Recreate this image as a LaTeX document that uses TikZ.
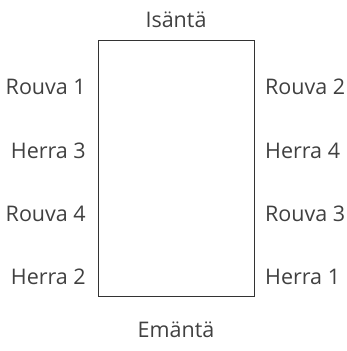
\documentclass[tikz,border=0pt]{standalone}
\usepackage{fontspec}
\setmainfont{Open Sans}
\begin{document}
\begin{tikzpicture}[x=1pt,y=-1pt,
  lbl/.style={font=\fontsize{21.5}{25}\selectfont,text=black!75,inner sep=0pt},
  table/.style={draw=black!80,line width=0.9pt}]
\useasboundingbox (0,0) rectangle (347,351);
\draw[table] (98,40) rectangle (254,296);
\node[lbl] (host) at (176,20) {Isäntä};
\node[lbl] (hostess) at (176,330) {Emäntä};
\node[lbl,anchor=east] (l1) at (86,87) {Rouva 1};
\node[lbl,anchor=east] (l2) at (86,151) {Herra 3};
\node[lbl,anchor=east] (l3) at (86,214) {Rouva 4};
\node[lbl,anchor=east] (l4) at (86,277) {Herra 2};
\node[lbl,anchor=west] (r1) at (265,87) {Rouva 2};
\node[lbl,anchor=west] (r2) at (265,151) {Herra 4};
\node[lbl,anchor=west] (r3) at (265,214) {Rouva 3};
\node[lbl,anchor=west] (r4) at (265,277) {Herra 1};
\end{tikzpicture}
\end{document}
